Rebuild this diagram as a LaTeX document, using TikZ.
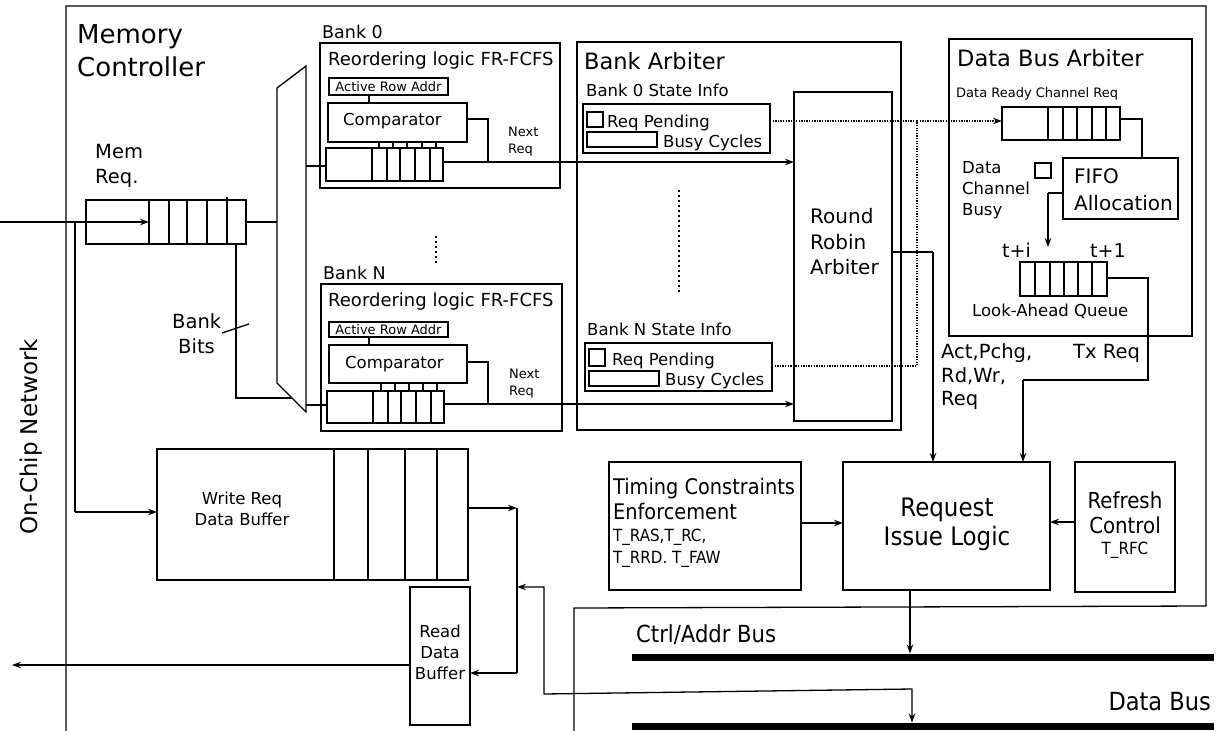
\documentclass[tikz,border=0pt]{standalone}
\usepackage{fontspec}
\setmainfont{DejaVu Sans}
\newfontfamily\cond{DejaVu Sans Condensed}
\usetikzlibrary{arrows.meta}
\newcommand\fz[1]{\fontsize{#1}{#1}\selectfont}
\begin{document}
\begin{tikzpicture}[x=1pt,y=-1pt,
  bx/.style={draw, inner sep=0pt, outer sep=0pt, anchor=north west, line width=1.3pt},
  sz/.style 2 args={minimum width=#1pt, minimum height=#2pt},
  tl/.style={inner sep=0pt, anchor=base west},
  tc/.style={inner sep=0pt, anchor=base},
  wire/.style={line width=1.3pt},
  arr/.style={line width=1.3pt, -{Stealth[length=9pt,width=6.5pt]}},
  dotw/.style={line width=1.3pt, dash pattern=on 1.3pt off 1.3pt},
  vdots/.style={line width=1.6pt, dash pattern=on 1.6pt off 3.4pt},
  bus/.style={line width=7pt},
  cell/.style={line width=1.2pt}]
\useasboundingbox (0,0) rectangle (1224,731);

% ---------- outer memory controller boundary ----------
\draw[wire] (66,731) -- (66,6) -- (1206,6) -- (1206,606) -- (574,608) -- (574,731);
\node[tl,font=\fz{26}] (mc1) at (77,43) {Memory};
\node[tl,font=\fz{26}] (mc2) at (77,76) {Controller};

% ---------- on-chip network ----------
\node[inner sep=0pt, anchor=base, rotate=90, font=\fz{23}] (ocn) at (37,437) {On-Chip Network};

% ---------- memory request queue ----------
\node[tl,font=\fz{19.5}] (mr1) at (95,158) {Mem};
\node[tl,font=\fz{19.5}] (mr2) at (95,183) {Req.};
\node[bx,sz={160}{44}] (mq) at (86,200) {};
\foreach \x in {149,169,187,207} \draw[cell] (\x,200) -- (\x,244);
\draw[cell] (227,197) -- (227,243);
\coordinate (inp) at (0,222);
\coordinate (mqin) at (149,222);
\draw[arr] (inp) -- (mqin);
\coordinate (wsplit) at (75,222);
\coordinate (wcorner) at (75,512);

% ---------- mux ----------
\coordinate (m1) at (277,88);
\coordinate (m2) at (306,66);
\coordinate (m3) at (306,412);
\coordinate (m4) at (277,383);
\draw[wire] (m1) -- (m2) -- (m3) -- (m4) -- cycle;
\draw[wire] (mq.east) -- (mq.east -| m1);
\coordinate (bbtop) at (236,244);
\coordinate (bbcorner) at (236,398);
\coordinate (bbend) at (292,398);
\draw[wire] (bbtop) -- (bbcorner) -- (bbend);
\coordinate (sl1) at (222,333);
\coordinate (sl2) at (249,324);
\draw[wire] (sl1) -- (sl2);
\node[tl,font=\fz{19.5}] (bb1) at (172,328) {Bank};
\node[tl,font=\fz{19.5}] (bb2) at (178,353) {Bits};

% ---------- Bank 0 ----------
\node[tl,font=\fz{17.5}] (b0l) at (322,38) {Bank 0};
\node[bx,sz={240}{145}] (b0) at (320,43) {};
\node[tl,font=\fz{18}] (b0t) at (328,65) {Reordering logic FR-FCFS};
\node[bx,sz={119}{17},line width=2pt,font=\fz{13}] (ar0) at (329,78) {Active Row Addr};
\node[bx,sz={139}{39}] (cp0) at (328,103) {};
\node[tl,font=\fz{16.5}] (cp0t) at (343,125) {Comparator};
\node[bx,sz={117}{33}] (q0) at (326,148) {};
\foreach \x in {372,387,400,415,430} \draw[cell] (\x,148) -- (\x,181);
\foreach \x in {379,393,407,422,436} \draw[cell] (\x,142) -- (\x,148);
\draw[wire] (369,95) -- (369,103);
\coordinate (n0a) at (467,119);
\coordinate (n0b) at (488,119);
\coordinate (n0c) at (488,162);
\draw[wire] (n0a) -- (n0b) -- (n0c);
\node[tl,font=\fz{13}] (nr0a) at (508,136) {Next};
\node[tl,font=\fz{13}] (nr0b) at (508,153) {Req};
\coordinate (mo0) at (306,166);
\draw[wire] (mo0) -- (326,166);

% dots between banks
\coordinate (bd1) at (436,236);
\coordinate (bd2) at (436,263);
\draw[vdots] (bd1) -- (bd2);

% ---------- Bank N ----------
\node[tl,font=\fz{17.5}] (bnl) at (323,279) {Bank N};
\node[bx,sz={241}{147}] (bn) at (321,284) {};
\node[tl,font=\fz{18}] (bnt) at (328,306) {Reordering logic FR-FCFS};
\node[bx,sz={119}{15},line width=2pt,font=\fz{13}] (arn) at (329,322) {Active Row Addr};
\node[bx,sz={138}{38}] (cpn) at (329,345) {};
\node[tl,font=\fz{16.5}] (cpnt) at (345,368) {Comparator};
\node[bx,sz={117}{32}] (qn) at (327,391) {};
\foreach \x in {373,388,401,416,431} \draw[cell] (\x,391) -- (\x,423);
\foreach \x in {381,395,409,423,437} \draw[cell] (\x,383) -- (\x,391);
\draw[wire] (369,337) -- (369,345);
\coordinate (nna) at (467,362);
\coordinate (nnb) at (488,362);
\coordinate (nnc) at (488,404);
\draw[wire] (nna) -- (nnb) -- (nnc);
\node[tl,font=\fz{13}] (nrna) at (509,378) {Next};
\node[tl,font=\fz{13}] (nrnb) at (509,395) {Req};
\coordinate (mon) at (306,405);
\draw[wire] (mon) -- (327,405);

% ---------- Bank Arbiter ----------
\node[bx,sz={324}{388},line width=2pt] (ba) at (577,42) {};
\node[tl,font=\fz{22.5}] (bat) at (584,69) {Bank Arbiter};
\node[tl,font=\fz{16.5}] (s0t) at (586,96) {Bank 0 State Info};
\node[bx,sz={187}{49},line width=2pt] (sb0) at (583,104) {};
\node[bx,sz={16}{15},line width=1.6pt] (ck0) at (587,112) {};
\node[tl,font=\fz{16.5}] (rp0) at (607,127) {Req Pending};
\node[bx,sz={70}{15},line width=1.6pt] (bc0) at (587,132) {};
\node[tl,font=\fz{16.5}] (bt0) at (663,147) {Busy Cycles};
\coordinate (ad1) at (679,190);
\coordinate (ad2) at (679,292);
\draw[vdots] (ad1) -- (ad2);
\node[tl,font=\fz{16.5}] (snt) at (587,335) {Bank N State Info};
\node[bx,sz={187}{48},line width=2pt] (sbn) at (585,343) {};
\node[bx,sz={16}{17},line width=1.6pt] (ckn) at (589,349) {};
\node[tl,font=\fz{16.5}] (rpn) at (612,365) {Req Pending};
\node[bx,sz={70}{15},line width=1.6pt] (bcn) at (589,371) {};
\node[tl,font=\fz{16.5}] (btn) at (665,385) {Busy Cycles};
\node[bx,sz={98}{329},line width=2pt] (rr) at (794,92) {};
\node[tl,font=\fz{20}] (rr1) at (810,223) {Round};
\node[tl,font=\fz{20}] (rr2) at (810,249) {Robin};
\node[tl,font=\fz{20}] (rr3) at (810,274) {Arbiter};

\draw[arr] (q0.east |- 0,162) -- (rr.west |- 0,162);
\draw[arr] (qn.east |- 0,404) -- (rr.west |- 0,404);

% ---------- Data Bus Arbiter ----------
\node[bx,sz={243}{297},line width=1.5pt] (dba) at (949,39) {};
\node[tl,font=\fz{22.5}] (dbat) at (957,66) {Data Bus Arbiter};
\node[tl,font=\fz{13}] (drc) at (956,97) {Data Ready Channel Req};
\node[bx,sz={118}{33}] (dq) at (1002,107) {};
\foreach \x in {1048,1063,1077,1092,1106} \draw[cell] (\x,107) -- (\x,140);
\node[tl,font=\fz{16.5}] (dc1) at (962,173) {Data};
\node[tl,font=\fz{16.5}] (dc2) at (962,194) {Channel};
\node[tl,font=\fz{16.5}] (dc3) at (962,215) {Busy};
\node[bx,sz={16}{15},line width=1.5pt] (dcb) at (1035,163) {};
\node[bx,sz={115}{61},line width=1.6pt] (fifo) at (1063,158) {};
\node[tl,font=\fz{20}] (ff1) at (1074,183) {FIFO};
\node[tl,font=\fz{20}] (ff2) at (1074,210) {Allocation};
\node[tl,font=\fz{19}] (tpi) at (1002,257) {t+i};
\node[tl,font=\fz{19}] (tp1) at (1090,257) {t+1};
\node[bx,sz={87}{34}] (laq) at (1020,262) {};
\foreach \x in {1035,1050,1064,1078,1092} \draw[cell] (\x,262) -- (\x,296);
\node[tl,font=\fz{16.5}] (laqt) at (972,316) {Look-Ahead Queue};

\coordinate (dq1) at (1142,119);
\draw[wire] (dq.east |- dq1) -- (dq1) -- (dq1 |- fifo.north);
\coordinate (ff3) at (1048,193);
\coordinate (ff4) at (1048,247);
\draw[wire] (fifo.west |- ff3) -- (ff3);
\draw[arr] (ff3) -- (ff4);

% dotted state links
\coordinate (dj1) at (917,121);
\coordinate (dj2) at (917,366);
\draw[dotw] (sbn.east |- dj2) -- (dj2) -- (dj1);
\draw[dotw] (sb0.east |- dj1) -- (dj1);
\draw[dotw, -{Stealth[length=9pt,width=6.5pt]}] (dj1) -- (dq.west |- dj1);

% ---------- command labels ----------
\node[tl,font=\fz{19.5}] (cmd1) at (941,358) {Act,Pchg,};
\node[tl,font=\fz{19.5}] (cmd2) at (941,382) {Rd,Wr,};
\node[tl,font=\fz{19.5}] (cmd3) at (941,405) {Req};
\node[tl,font=\fz{19.5}] (txr) at (1073,358) {Tx Req};

% ---------- bottom blocks ----------
\node[bx,sz={192}{128},line width=2.5pt] (tce) at (609,462) {};
\node[tl,font=\cond\fz{21.5}] (tc1) at (613,494) {Timing Constraints};
\node[tl,font=\cond\fz{21.5}] (tc2) at (613,519) {Enforcement};
\node[tl,font=\cond\fz{16.8}] (tc3) at (613,541) {T\_RAS,T\_RC,};
\node[tl,font=\cond\fz{16.8}] (tc4) at (613,563) {T\_RRD. T\_FAW};
\node[bx,sz={207}{128},line width=2.5pt] (ril) at (843,462) {};
\node[tc,font=\cond\fz{25.5}] (ri1) at (947,516) {Request};
\node[tc,font=\cond\fz{25.5}] (ri2) at (947,545) {Issue Logic};
\node[bx,sz={100}{130},line width=2.5pt] (rfc) at (1075,462) {};
\node[tc,font=\cond\fz{22}] (rf1) at (1125,508) {Refresh};
\node[tc,font=\cond\fz{22}] (rf2) at (1125,533) {Control};
\node[tc,font=\cond\fz{16.8}] (rf3) at (1125,554) {T\_RFC};

\draw[arr] (tce.east |- 0,523) -- (ril.west |- 0,523);
\draw[arr] (rfc.west |- 0,522) -- (ril.east |- 0,522);

\coordinate (rr1o) at (933,252);
\draw[wire] (rr.east |- rr1o) -- (rr1o);
\draw[arr] (rr1o) -- (rr1o |- ril.north);
\coordinate (la1) at (1148,278);
\coordinate (la2) at (1148,380);
\coordinate (la3) at (1023,380);
\draw[wire] (laq.east |- la1) -- (la1) -- (la2) -- (la3);
\draw[arr] (la3) -- (la3 |- ril.north);

% ---------- buses ----------
\coordinate (cb1) at (632,657);
\coordinate (cb2) at (1214,657);
\coordinate (db1) at (632,726);
\coordinate (db2) at (1214,726);
\draw[bus] (cb1) -- (cb2);
\draw[bus] (db1) -- (db2);
\node[tl,font=\cond\fz{23.5}] (cabt) at (636,642) {Ctrl/Addr Bus};
\node[inner sep=0pt, anchor=base east, font=\cond\fz{25}] (dbt) at (1211,710) {Data Bus};
\coordinate (rio) at (910,590);
\draw[arr] (rio) -- (910,653.5);

% ---------- write / read buffers ----------
\node[bx,sz={311}{131}] (wrb) at (157,449) {};
\foreach \x in {334,368,405,437} \draw[cell] (\x,449) -- (\x,580);
\node[tc,font=\fz{16.5}] (wr1) at (242,504) {Write Req};
\node[tc,font=\fz{16.5}] (wr2) at (242,525) {Data Buffer};
\node[bx,sz={60}{138}] (rdb) at (410,587) {};
\node[tc,font=\fz{16.5}] (rd1) at (440,637) {Read};
\node[tc,font=\fz{16.5}] (rd2) at (440,658) {Data};
\node[tc,font=\fz{16.5}] (rd3) at (440,679) {Buffer};

\draw[wire] (wsplit) -- (wcorner);
\draw[arr] (wcorner) -- (wrb.west |- wcorner);

\coordinate (j1) at (517,508);
\coordinate (j2) at (517,673);
\coordinate (j3) at (517,587);
\draw[arr] (wrb.east |- j1) -- (j1);
\draw[wire] (j1) -- (j2);
\draw[arr] (j2) -- (rdb.east |- j2);
\coordinate (dp1) at (544,587);
\coordinate (dp2) at (544,694);
\coordinate (dp3) at (912,689);
\coordinate (dp4) at (912,722.5);
\draw[line width=1.3pt, {Stealth[length=9pt,width=6.5pt]}-{Stealth[length=9pt,width=6.5pt]}] (j3) -- (dp1) -- (dp2) -- (dp3) -- (dp4);
\coordinate (outp) at (12,665);
\draw[arr] (rdb.west |- outp) -- (outp);
\end{tikzpicture}
\end{document}
